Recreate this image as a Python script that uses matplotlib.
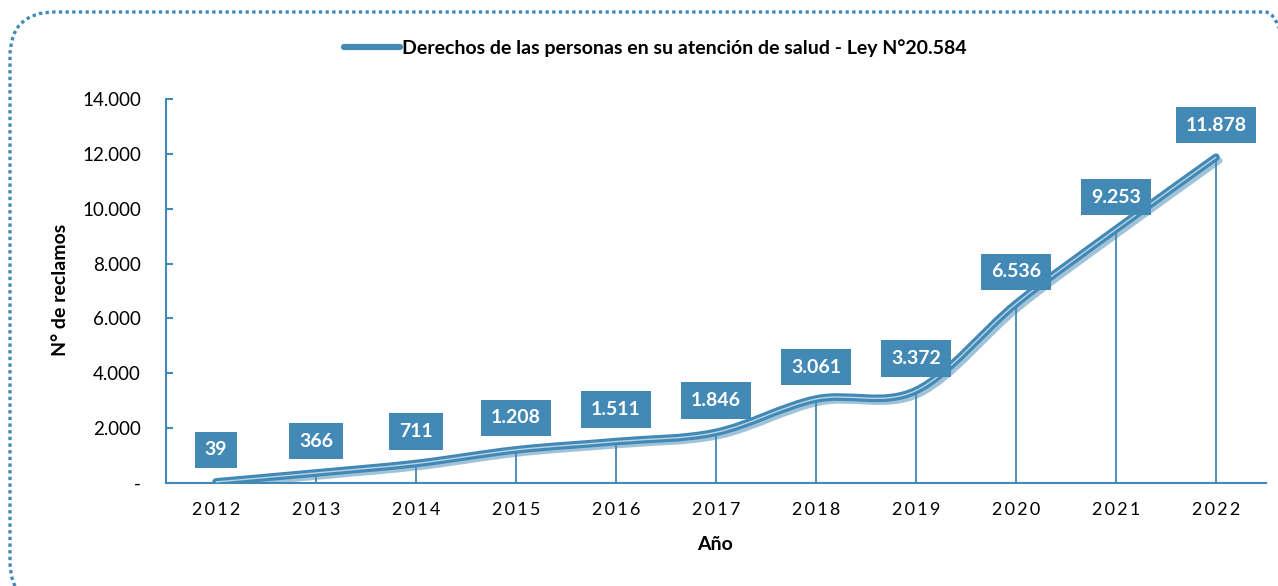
import numpy as np
import matplotlib
matplotlib.use("Agg")
import matplotlib.pyplot as plt
from matplotlib.path import Path
from matplotlib.patches import PathPatch, FancyBboxPatch
from matplotlib.lines import Line2D
from matplotlib.ticker import FuncFormatter, MultipleLocator
import matplotlib.transforms as mtransforms

plt.rcParams['font.family'] = ['Lato', 'DejaVu Sans']

# data
years = [2012, 2013, 2014, 2015, 2016, 2017, 2018, 2019, 2020, 2021, 2022]
reclamos = [39, 366, 711, 1208, 1511, 1846, 3061, 3372, 6536, 9253, 11878]
serie = "Derechos de las personas en su atención de salud - Ley N°20.584"

BLUE = '#4389b5'
LIGHT = '#b8d4e6'


def fmt_miles(v, pos=None):
    if v == 0:
        return '-'
    return f'{v:,.0f}'.replace(',', '.')


def smooth_path(x, y):
    # bezier segments like excel smoothed lines
    pts = np.column_stack([x, y]).astype(float)
    n = len(pts)
    verts = [pts[0]]
    codes = [Path.MOVETO]
    for i in range(n - 1):
        p0 = pts[i - 1] if i > 0 else pts[i]
        p1 = pts[i]
        p2 = pts[i + 1]
        p3 = pts[i + 2] if i + 2 < n else pts[i + 1]
        c1 = p1 + (p2 - p0) / 6
        c2 = p2 - (p3 - p1) / 6
        verts += [c1, c2, p2]
        codes += [Path.CURVE4] * 3
    return Path(verts, codes)


fig = plt.figure(figsize=(12.78, 5.86), dpi=100)
ax = fig.add_axes([166 / 1278, 1 - 483 / 586, 1100 / 1278, 384 / 586])

x = np.arange(len(years))
path = smooth_path(x, reclamos)

# shadow
shadow_tr = mtransforms.offset_copy(ax.transData, fig=fig, x=2.5, y=-2.5, units='points')
ax.add_patch(PathPatch(path, fill=False, edgecolor=BLUE, lw=4.5, alpha=0.5,
                       transform=shadow_tr, capstyle='round', zorder=3))
ax.add_patch(PathPatch(path, fill=False, edgecolor=BLUE, lw=5.5,
                       capstyle='round', zorder=4))
ax.add_patch(PathPatch(path, fill=False, edgecolor=LIGHT, lw=1.0, zorder=5))

# drop lines
ax.vlines(x, 0, reclamos, color=BLUE, lw=1.3, zorder=2)

# data labels
for xi, v in zip(x, reclamos):
    ax.annotate(fmt_miles(v), (xi, v), xytext=(0, 23), textcoords='offset points',
                ha='center', va='center', color='white', fontsize=14,
                fontweight='bold', zorder=6,
                bbox=dict(boxstyle='square,pad=0.5', fc=BLUE, ec='none'))

ax.set_xlim(-0.5, len(years) - 0.5)
ax.set_ylim(0, 14000)
ax.yaxis.set_major_locator(MultipleLocator(2000))
ax.yaxis.set_major_formatter(FuncFormatter(fmt_miles))
ax.set_xticks(x)
ax.set_xticklabels(['\u2009'.join(str(y)) for y in years])

for s in ['top', 'right']:
    ax.spines[s].set_visible(False)
for s in ['left', 'bottom']:
    ax.spines[s].set_color(BLUE)
    ax.spines[s].set_linewidth(1.5)
ax.tick_params(axis='y', direction='in', length=5, color=BLUE, width=1.5,
               pad=18, labelsize=13.5)
ax.tick_params(axis='x', length=0, pad=14, labelsize=13)

fig.text(60 / 1278, 1 - 290 / 586, 'N° de reclamos', rotation=90, ha='center',
         va='center', fontsize=14, fontweight='bold')
fig.text(715 / 1278, 1 - 545 / 586, 'Año', ha='center', va='center',
         fontsize=14, fontweight='bold')

handle = Line2D([], [], color=BLUE, lw=4.5, solid_capstyle='round')
leg = fig.legend([handle], [serie], loc='center', bbox_to_anchor=(655 / 1278, 1 - 48 / 586),
                 frameon=False, handlelength=2.9, handletextpad=0.1,
                 prop=dict(weight='bold', size=14))

# dotted rounded frame
frame = FancyBboxPatch((10 / 1278, -20 / 586), 1300 / 1278, 594 / 586,
                       boxstyle='round,pad=0,rounding_size=0.035',
                       transform=fig.transFigure, fill=False, ec=BLUE, lw=2.4,
                       linestyle=(0, (1, 1.0)), clip_on=False,
                       mutation_aspect=1278 / 586)
fig.patches.append(frame)

fig.savefig('out.png', dpi=100)
